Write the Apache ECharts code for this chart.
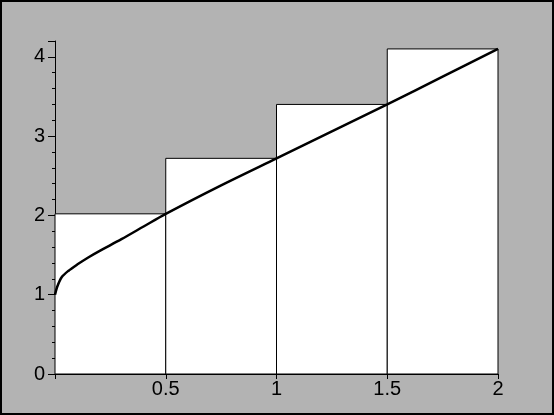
<!DOCTYPE html>
<html>
<head>
<meta charset="UTF-8">
<script src="https://cdn.jsdelivr.net/npm/echarts@6/dist/echarts.min.js"></script>
<style>
html,body{margin:0;padding:0;background:#000;}
#c{position:absolute;left:2px;top:2px;width:550px;height:411px;background:#b3b3b3;}
</style>
</head>
<body>
<div id="c"></div>
<script>
// right-endpoint rectangles
var rectLeft = [0, 0.5, 1, 1.5];
var rectRight = [0.5, 1, 1.5, 2];
var rectHeight = [2.02, 2.72, 3.40, 4.10];
// curve samples
var curveX = [0, 0.01, 0.03, 0.06, 0.1, 0.15, 0.2, 0.3, 0.4, 0.5, 0.75, 1, 1.25, 1.5, 1.75, 2];
var curveY = [1, 1.1, 1.22, 1.3, 1.38, 1.47, 1.55, 1.7, 1.86, 2.02, 2.38, 2.72, 3.06, 3.40, 3.75, 4.10];

var chart = echarts.init(document.getElementById('c'));
chart.setOption({
  animation: false,
  grid: {left: 53, right: 54, top: 39, bottom: 39},
  xAxis: {
    type: 'value', min: 0, max: 2, interval: 0.5,
    axisLine: {onZero: false, lineStyle: {color: '#000', width: 1}},
    axisTick: {show: true, length: 5, lineStyle: {color: '#000'}},
    axisLabel: {color: '#000', fontFamily: 'Liberation Sans', fontSize: 20, margin: 5,
      formatter: function (v) { return v === 0 ? '' : String(v); }},
    splitLine: {show: false}
  },
  yAxis: {
    type: 'value', min: 0, max: 4.2, interval: 1,
    axisLine: {show: true, lineStyle: {color: '#000', width: 1}},
    axisTick: {show: true, length: 7, lineStyle: {color: '#000'}},
    minorTick: {show: true, splitNumber: 5, length: 3, lineStyle: {color: '#000'}},
    axisLabel: {color: '#000', fontFamily: 'Liberation Sans', fontSize: 20, margin: 10,
      formatter: function (v) { return Number.isInteger(v) ? String(v) : ''; }},
    splitLine: {show: false}
  },
  series: [{
    type: 'custom',
    data: rectLeft.map(function (l, i) { return [l, rectRight[i], rectHeight[i]]; }),
    renderItem: function (params, api) {
      var p0 = api.coord([api.value(0), api.value(2)]);
      var p1 = api.coord([api.value(1), 0]);
      return {type: 'rect', shape: {x: p0[0], y: p0[1], width: p1[0] - p0[0], height: p1[1] - p0[1]},
        style: {fill: '#fff', stroke: '#000', lineWidth: 1}};
    },
    z: 1
  }, {
    type: 'line',
    data: curveX.map(function (x, i) { return [x, curveY[i]]; }),
    smooth: 0.3, showSymbol: false,
    lineStyle: {color: '#000', width: 2.5},
    z: 3
  }]
});
</script>
</body>
</html>
